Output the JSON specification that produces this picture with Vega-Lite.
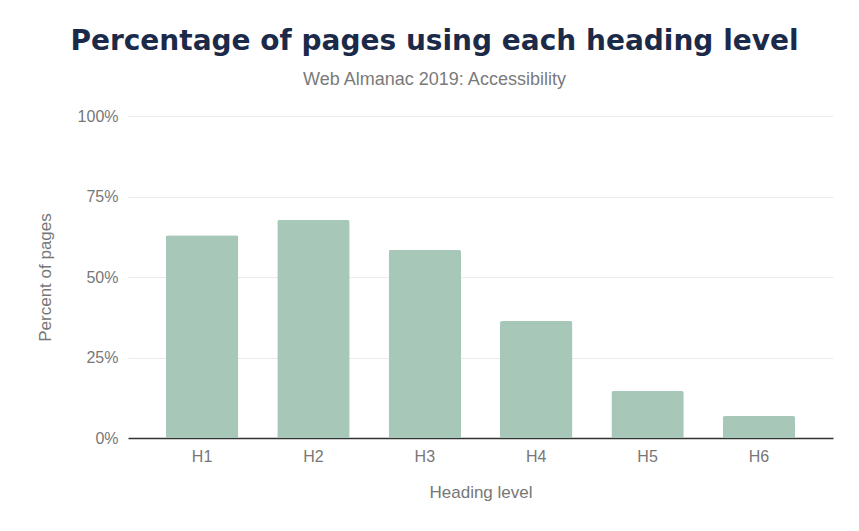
{
  "$schema": "https://vega.github.io/schema/vega-lite/v6.json",
  "autosize": {"type": "none"},
  "width": 705,
  "height": 322,
  "padding": {"left": 128, "top": 116, "right": 26, "bottom": 93},
  "background": "white",
  "title": {
    "text": "Percentage of pages using each heading level",
    "subtitle": "Web Almanac 2019: Accessibility",
    "anchor": "middle",
    "frame": "group",
    "dx": -46,
    "offset": 19,
    "font": "DejaVu Sans",
    "fontSize": 28,
    "fontWeight": "bold",
    "color": "#1c2a4a",
    "subtitleFont": "Liberation Sans",
    "subtitleFontSize": 18,
    "subtitleColor": "#7a7a7a",
    "subtitlePadding": 15
  },
  "data": {
    "values": [
      {"level": "H1", "pct": 0.63},
      {"level": "H2", "pct": 0.677},
      {"level": "H3", "pct": 0.584},
      {"level": "H4", "pct": 0.363},
      {"level": "H5", "pct": 0.146},
      {"level": "H6", "pct": 0.068}
    ]
  },
  "mark": {"type": "bar", "color": "#a7c8b8", "cornerRadiusTopLeft": 2, "cornerRadiusTopRight": 2},
  "encoding": {
    "x": {
      "field": "level",
      "type": "nominal",
      "sort": null,
      "scale": {"paddingInner": 0.35, "paddingOuter": 0.34},
      "axis": {
        "title": "Heading level",
        "labelAngle": 0,
        "ticks": false,
        "labelPadding": 10,
        "titlePadding": 20,
        "domainColor": "#333333",
        "domainWidth": 1.5,
        "grid": false
      }
    },
    "y": {
      "field": "pct",
      "type": "quantitative",
      "scale": {"domain": [0, 1]},
      "axis": {
        "title": "Percent of pages",
        "format": ".0%",
        "values": [0, 0.25, 0.5, 0.75, 1],
        "ticks": false,
        "domain": false,
        "labelPadding": 10,
        "titlePadding": 23,
        "gridColor": "#ebebeb"
      }
    }
  },
  "config": {
    "view": {"stroke": null},
    "axis": {
      "labelFont": "Liberation Sans",
      "labelFontSize": 16,
      "labelColor": "#777777",
      "titleFont": "Liberation Sans",
      "titleFontSize": 17,
      "titleFontWeight": "normal",
      "titleColor": "#777777"
    }
  }
}
